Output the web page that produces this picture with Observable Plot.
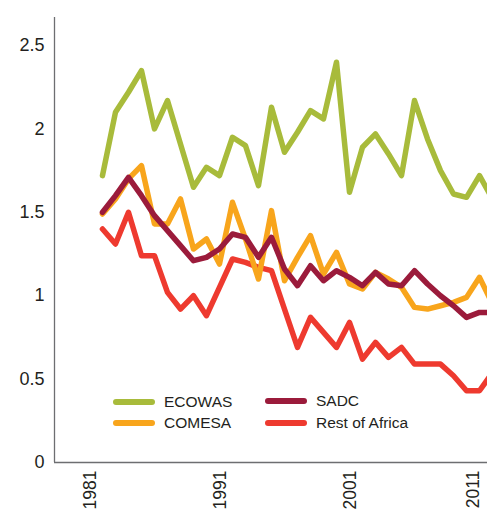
<!DOCTYPE html>
<html><head><meta charset="utf-8">
<script src="https://cdn.jsdelivr.net/npm/d3@7"></script>
<script src="https://cdn.jsdelivr.net/npm/@observablehq/plot@0.6"></script>
<style>
body{margin:0;background:#fff;}
#wrap{position:relative;width:487px;height:511px;overflow:hidden;font-family:"Liberation Sans",Arial,Helvetica,sans-serif;color:#231f20;}
.sw{position:absolute;height:6px;border-radius:3px;}
.lt{position:absolute;font-size:15.5px;line-height:20px;white-space:nowrap;color:#231f20;}
</style></head><body><div id="wrap"></div>
<script>
const years = [1981,1982,1983,1984,1985,1986,1987,1988,1989,1990,1991,1992,1993,1994,1995,1996,1997,1998,1999,2000,2001,2002,2003,2004,2005,2006,2007,2008,2009,2010,2011];
const ecowas = [1.72,2.10,2.22,2.35,2.00,2.17,1.91,1.65,1.77,1.72,1.95,1.90,1.66,2.13,1.86,1.98,2.11,2.06,2.40,1.62,1.89,1.97,1.85,1.72,2.17,1.94,1.75,1.61,1.59,1.72,1.58];
const comesa = [1.49,1.58,1.70,1.78,1.43,1.43,1.58,1.28,1.34,1.19,1.56,1.34,1.10,1.51,1.09,1.23,1.36,1.13,1.26,1.07,1.04,1.14,1.10,1.05,0.93,0.92,0.94,0.96,0.99,1.11,0.95];
const sadc = [1.50,1.60,1.71,1.60,1.48,1.39,1.30,1.21,1.23,1.28,1.37,1.35,1.23,1.35,1.16,1.06,1.18,1.09,1.15,1.11,1.06,1.14,1.07,1.06,1.15,1.07,1.00,0.94,0.87,0.90,0.90];
const restOfAfrica = [1.40,1.31,1.50,1.24,1.24,1.02,0.92,1.00,0.88,1.05,1.22,1.20,1.17,1.15,0.92,0.69,0.87,0.78,0.69,0.84,0.62,0.72,0.63,0.69,0.59,0.59,0.59,0.52,0.43,0.43,0.54];
const seriesNames = ["ECOWAS","COMESA","SADC","Rest of Africa"];
const seriesColors = ["#a8bb3b","#f8a51c","#9b1b3b","#ee3a2f"];
const yTicks = [0,0.5,1,1.5,2,2.5];
const yTickLabels = ["0","0.5","1","1.5","2","2.5"];
const xTicks = [1981,1991,2001];
const xTicksEdge = [2011];

const seriesValues = {"ECOWAS":ecowas,"COMESA":comesa,"SADC":sadc,"Rest of Africa":restOfAfrica};
const rows = [];
for (const name of seriesNames) years.forEach((yr,i)=>rows.push({series:name,year:yr,value:seriesValues[name][i]}));

const xDomain = [1977.31, 2010.615];
const yDomain = [0, 2.668];
const drawOrder = ["ECOWAS","Rest of Africa","COMESA","SADC"];
const axisColor = "#6d6e71";
const xAxisOpts = {tickFormat:d=>String(d), tickSize:0, tickPadding:8, tickRotate:-90, label:null, fontSize:17.5};

const chart = Plot.plot({
  width:487, height:511, marginLeft:54, marginRight:0, marginTop:17, marginBottom:49,
  style:{fontFamily:'"Liberation Sans",Arial,Helvetica,sans-serif', fontSize:"18px", color:"#231f20", background:"transparent"},
  x:{domain:xDomain},
  y:{domain:yDomain},
  color:{domain:seriesNames, range:seriesColors},
  marks:[
    Plot.axisY({ticks:yTicks, tickFormat:d=>yTickLabels[yTicks.indexOf(d)], tickSize:0, tickPadding:10, label:null, fontSize:18}),
    Plot.axisX({...xAxisOpts, ticks:xTicks, dx:-12}),
    Plot.axisX({...xAxisOpts, ticks:xTicksEdge, dx:-19}),
    Plot.ruleY([0],{stroke:axisColor, strokeWidth:1.3}),
    Plot.ruleX([xDomain[0]],{stroke:axisColor, strokeWidth:1.3}),
    ...drawOrder.map(name=>Plot.line(rows.filter(r=>r.series===name),{x:"year", y:"value", stroke:"series", strokeWidth:5.5, clip:true}))
  ]
});
const wrap = document.getElementById("wrap");
wrap.appendChild(chart);

// legend (HTML overlay)
const legendLayout = [
  {name:"ECOWAS", sx:113, cy:402},
  {name:"COMESA", sx:113, cy:423},
  {name:"SADC", sx:265, cy:401},
  {name:"Rest of Africa", sx:265, cy:423}
];
for (const item of legendLayout) {
  const color = seriesColors[seriesNames.indexOf(item.name)];
  const sw = document.createElement("div");
  sw.className = "sw";
  sw.style.left = item.sx + "px"; sw.style.width = "42px"; sw.style.top = (item.cy-3) + "px";
  sw.style.background = color;
  wrap.appendChild(sw);
  const t = document.createElement("div");
  t.className = "lt";
  t.style.left = (item.sx + 51) + "px"; t.style.top = (item.cy - 9.6) + "px";
  t.textContent = item.name;
  wrap.appendChild(t);
}
</script></body></html>
